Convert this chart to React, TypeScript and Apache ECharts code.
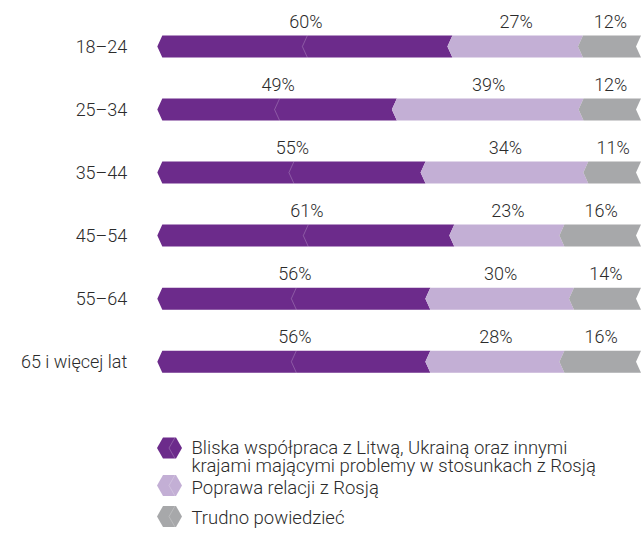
import React, { useEffect, useRef } from "react";
import * as echarts from "echarts";

const categories = ["18–24", "25–34", "35–44", "45–54", "55–64", "65 i więcej lat"];
const seriesNames = [
  "Bliska współpraca z Litwą, Ukrainą oraz innymi\nkrajami mającymi problemy w stosunkach z Rosją",
  "Poprawa relacji z Rosją",
  "Trudno powiedzieć",
];
const closeCooperation = [60, 49, 55, 61, 56, 56];
const betterRelations = [27, 39, 34, 23, 30, 28];
const hardToSay = [12, 12, 11, 16, 14, 16];
const colors = ["#6c2b8b", "#c3afd5", "#a7a8aa"];

const FONT = 'Roboto, "Noto Sans", sans-serif';
const TEXT = "#2b2b2b";
const WEIGHT = 300;

export default function App() {
  const ref = useRef<HTMLDivElement>(null);
  useEffect(() => {
    if (!ref.current) return;
    const chart = echarts.init(ref.current, undefined, { renderer: "svg" });
    const all = [closeCooperation, betterRelations, hardToSay];
    const totals = categories.map((_, i) => all.reduce((a, s) => a + s[i], 0));
    const H = 22;
    const D = 5;

    const series = all.map((vals, si) => {
      const data = vals.map((v, i) => {
        let before = 0;
        for (let k = 0; k < si; k++) before += all[k][i];
        const s = (before / totals[i]) * 100;
        const e = ((before + v) / totals[i]) * 100;
        return [i, s, e, v];
      });
      return {
        type: "custom",
        name: seriesNames[si],
        clip: false,
        encode: { x: [1, 2], y: 0 },
        data,
        renderItem: (params: any, api: any) => {
          const idx = api.value(0);
          const p0 = api.coord([api.value(1), idx]);
          const p1 = api.coord([api.value(2), idx]);
          const v = api.value(3);
          const cy = p0[1];
          const top = cy - H / 2;
          const bot = cy + H / 2;
          const x0 = p0[0];
          const x1 = p1[0];
          const children: any[] = [
            {
              type: "polygon",
              shape: {
                points: [
                  [x0, cy],
                  [x0 + D, top],
                  [x1 + D, top],
                  [x1, cy],
                  [x1 + D, bot],
                  [x0 + D, bot],
                ],
              },
              style: { fill: colors[si] },
            },
          ];
          if (si === 0) {
            const m = (x0 + x1) / 2;
            children.push({
              type: "polyline",
              shape: { points: [[m + D, top], [m, cy], [m + D, bot]] },
              style: { stroke: "rgba(255,255,255,0.22)", lineWidth: 1, fill: null },
            });
          }
          children.push({
            type: "text",
            style: {
              text: v + "%",
              x: (x0 + x1) / 2 + D / 2 + 1,
              y: cy - 25.5,
              align: "center",
              verticalAlign: "middle",
              fontSize: 18,
              fontWeight: WEIGHT,
              fontFamily: FONT,
              fill: TEXT,
            },
          });
          return { type: "group", children };
        },
      };
    });

    const legendCenters = [448, 485.5, 516.5];
    const legendTextY = [447.5, 488, 518];
    const LH = 18.5;
    const legendGraphics: any[] = [];
    legendCenters.forEach((cy, i) => {
      legendGraphics.push({
        type: "polygon",
        shape: {
          points: [
            [157, cy],
            [163, cy - 10.5],
            [176, cy - 10.5],
            [182, cy],
            [176, cy + 10.5],
            [163, cy + 10.5],
          ],
        },
        style: { fill: colors[i] },
      });
      legendGraphics.push({
        type: "polyline",
        shape: { points: [[175, cy - 10.5], [169, cy], [175, cy + 10.5]] },
        style: { stroke: "rgba(255,255,255,0.22)", lineWidth: 1, fill: null },
      });
      legendGraphics.push({
        type: "text",
        x: 191.5,
        y: legendTextY[i] - LH / 2,
        style: {
          text: seriesNames[i],
          fontSize: 18.5,
          lineHeight: LH,
          fontWeight: WEIGHT,
          fontFamily: FONT,
          fill: TEXT,
          verticalAlign: "top",
          align: "left",
        },
      });
    });

    chart.setOption({
      animation: false,
      grid: { left: 157.3, right: 6, top: 15, bottom: 144.8 },
      xAxis: { type: "value", min: 0, max: 100, show: false },
      yAxis: {
        type: "category",
        data: categories,
        inverse: true,
        axisLine: { show: false },
        axisTick: { show: false },
        splitLine: { show: false },
        axisLabel: { margin: 30, fontSize: 18, fontWeight: WEIGHT, fontFamily: FONT, color: TEXT },
      },
      series,
      graphic: legendGraphics,
    });
    return () => chart.dispose();
  }, []);
  return (
    <div
      ref={ref}
      style={{ position: "fixed", left: 0, top: 0, width: 642, height: 538, background: "#fff" }}
    />
  );
}
